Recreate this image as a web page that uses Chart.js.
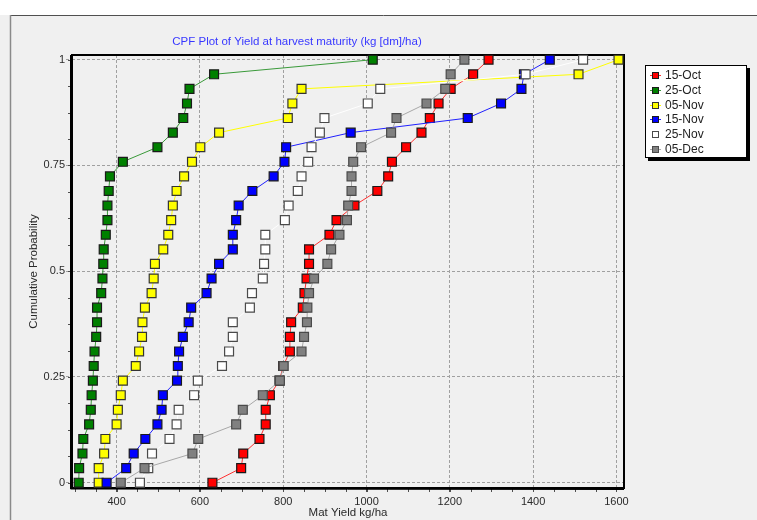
<!DOCTYPE html>
<html>
<head>
<meta charset="utf-8">
<script src="https://cdn.jsdelivr.net/npm/chart.js@4.4.1/dist/chart.umd.min.js"></script>
<style>
  html, body { margin: 0; padding: 0; background: #fff; }
  #wrap { width: 757px; height: 520px; position: relative; }
</style>
</head>
<body>
<div id="wrap"><canvas id="cpf"></canvas></div>
<script>
/* ── DATA ──────────────────────────────────── */
const PROB = [0, 0.0345, 0.069, 0.1034, 0.1379, 0.1724, 0.2069, 0.2414, 0.2759, 0.3103,
              0.3448, 0.3793, 0.4138, 0.4483, 0.4828, 0.5172, 0.5517, 0.5862, 0.6207, 0.6552,
              0.6897, 0.7241, 0.7586, 0.7931, 0.8276, 0.8621, 0.8966, 0.931, 0.9655, 1];

const OCT15 = [630, 699, 704, 743, 758, 758, 768, 791, 800, 816, 816, 819, 847, 851, 856,
               862, 862, 911, 928, 971, 1026, 1052, 1061, 1095, 1132, 1152, 1173, 1202, 1256, 1293];
const OCT25 = [309, 310, 318, 320, 334, 338, 340, 343, 345, 347, 351, 353, 353, 363, 366,
               368, 369, 374, 378, 378, 381, 384, 415, 498, 535, 560, 569, 575, 634, 1015];
const NOV05 = [357, 357, 370, 373, 400, 403, 410, 415, 446, 454, 461, 462, 468, 484, 489,
               492, 512, 524, 531, 535, 544, 562, 581, 601, 646, 811, 822, 844, 1509, 1605];
const NOV15 = [376, 423, 441, 469, 498, 508, 511, 545, 547, 550, 559, 573, 579, 616, 628,
               646, 679, 679, 687, 693, 726, 777, 803, 807, 962, 1243, 1323, 1372, 1378, 1440];
const NOV25 = [456, 476, 485, 527, 544, 549, 586, 595, 653, 670, 679, 679, 720, 725, 751,
               754, 757, 757, 804, 813, 835, 844, 860, 868, 888, 899, 1003, 1033, 1382, 1520];
const DEC05 = [410, 467, 582, 596, 687, 703, 751, 792, 801, 844, 850, 857, 858, 862, 874,
               906, 915, 935, 953, 956, 964, 964, 968, 987, 1059, 1072, 1144, 1189, 1202, 1235];

const SERIES_LABELS = ['15-Oct', '25-Oct', '05-Nov', '15-Nov', '25-Nov', '05-Dec'];
const SERIES_VALUES = [OCT15, OCT25, NOV05, NOV15, NOV25, DEC05];
const X_TICKS = [400, 600, 800, 1000, 1200, 1400, 1600];
const Y_TICKS = [0, 0.25, 0.5, 0.75, 1];

const TITLE   = 'CPF Plot of Yield at harvest maturity (kg [dm]/ha)';
const X_TITLE = 'Mat Yield kg/ha';
const Y_TITLE = 'Cumulative Probability';

/* ── STYLE ─────────────────────────────────── */
const FILL  = ['#ff0000', '#008000', '#ffff00', '#0000ff', '#ffffff', '#808080'];
const LINE  = ['#ff3030', '#3a9a3a', '#ffff00', '#2020ff', '#ffffff', '#a8a8a8'];
const EDGE  = ['#1a1a1a', '#1a1a1a', '#333333', '#1a1a1a', '#4a4a4a', '#4a4a4a'];
const FONT  = '"Liberation Sans", Arial, sans-serif';
const GRID  = '#a0a0a0';

const datasets = SERIES_LABELS.map((label, i) => ({
  label,
  data: SERIES_VALUES[i].map((x, k) => ({ x, y: PROB[k] })),
  showLine: true,
  borderColor: LINE[i],
  borderWidth: 1,
  pointStyle: 'rect',
  pointRadius: 6.3,
  pointHoverRadius: 6.3,
  pointBackgroundColor: FILL[i],
  pointBorderColor: EDGE[i],
  pointBorderWidth: 1.2,
  tension: 0,
  clip: false,
  order: SERIES_LABELS.length - 1 - i   // later series drawn on top
}));

/* ── PLUGINS ───────────────────────────────── */
const panel = {
  id: 'panel',
  beforeDraw(chart) {
    const { ctx, width, height } = chart;
    ctx.save();
    ctx.fillStyle = '#f0f0f0';
    ctx.fillRect(0, 0, width, height);
    ctx.fillStyle = '#ffffff';
    ctx.fillRect(0, 0, width, 15);
    ctx.strokeStyle = '#505050';
    ctx.lineWidth = 1;
    ctx.beginPath(); ctx.moveTo(10, 15.5); ctx.lineTo(width, 15.5); ctx.stroke();
    ctx.strokeStyle = '#8a8a8a';
    ctx.lineWidth = 1.5;
    ctx.beginPath(); ctx.moveTo(10.5, 15); ctx.lineTo(10.5, height); ctx.stroke();
    ctx.restore();
  }
};

const frame = {
  id: 'frame',
  beforeDatasetsDraw(chart) {
    const { ctx, chartArea: a, scales } = chart;
    ctx.save();
    // minor ticks
    ctx.strokeStyle = '#505050';
    ctx.lineWidth = 1;
    ctx.beginPath();
    for (let v = 300; v <= 1600; v += 50) {
      const px = Math.round(scales.x.getPixelForValue(v)) + 0.5;
      ctx.moveTo(px, a.bottom); ctx.lineTo(px, a.bottom + 4);
    }
    for (let v = 0; v <= 1; v += 0.0625) {
      const py = Math.round(scales.y.getPixelForValue(v)) + 0.5;
      ctx.moveTo(a.left - 4, py); ctx.lineTo(a.left, py);
    }
    ctx.stroke();
    // plot frame
    ctx.strokeStyle = '#000';
    ctx.lineWidth = 2;
    ctx.strokeRect(a.left, a.top, a.right - a.left, a.bottom - a.top);
    ctx.lineWidth = 1;
    ctx.beginPath();
    ctx.moveTo(a.left - 1.5, a.top); ctx.lineTo(a.left - 1.5, a.bottom + 1);
    ctx.lineTo(a.right, a.bottom + 1.5);
    ctx.stroke();
    ctx.restore();
  }
};

const titleAndLegend = {
  id: 'titleAndLegend',
  afterDraw(chart) {
    const { ctx } = chart;
    ctx.save();
    ctx.font = '11.5px ' + FONT;
    ctx.fillStyle = '#3838ff';
    ctx.textAlign = 'center';
    ctx.textBaseline = 'middle';
    ctx.fillText(TITLE, 297, 42);

    // legend box with drop shadow
    const bx = 645, by = 65, bw = 102, bh = 93;
    ctx.fillStyle = '#000';
    ctx.fillRect(bx + 3, by + 3, bw, bh);
    ctx.fillStyle = '#fff';
    ctx.fillRect(bx, by, bw, bh);
    ctx.strokeStyle = '#000';
    ctx.lineWidth = 1;
    ctx.strokeRect(bx + 0.5, by + 0.5, bw - 1, bh - 1);

    ctx.font = '12px ' + FONT;
    ctx.textAlign = 'left';
    chart.data.datasets.forEach((ds, i) => {
      const cy = Math.round(by + 10 + i * 14.8) + 0.5;
      ctx.strokeStyle = ds.borderColor;
      ctx.beginPath(); ctx.moveTo(650, cy); ctx.lineTo(661, cy); ctx.stroke();
      ctx.fillStyle = ds.pointBackgroundColor;
      ctx.fillRect(652.5, cy - 3, 6, 6);
      ctx.strokeStyle = ds.pointBorderColor;
      ctx.strokeRect(652.5, cy - 3, 6, 6);
      ctx.fillStyle = '#222';
      ctx.fillText(ds.label, 665, cy);
    });
    ctx.restore();
  }
};

/* ── CHART ─────────────────────────────────── */
new Chart(document.getElementById('cpf'), {
  type: 'scatter',
  data: { datasets },
  options: {
    responsive: true,
    maintainAspectRatio: false,
    animation: false,
    devicePixelRatio: 1,
    layout: { padding: { left: 6, top: 55, right: 133, bottom: 0 } },
    plugins: { legend: { display: false }, tooltip: { enabled: false } },
    scales: {
      x: {
        type: 'linear',
        min: 292.9,
        max: 1618.2,
        afterFit: s => { s.height = 32; },
        afterBuildTicks: s => { s.ticks = X_TICKS.map(v => ({ value: v })); },
        ticks: {
          autoSkip: false, maxRotation: 0, padding: 3,
          color: '#2a2a2a', font: { family: FONT, size: 11 },
          callback: v => String(v)
        },
        grid: {
          color: GRID, lineWidth: 1,
          tickLength: 4, tickColor: '#505050', tickBorderDash: []
        },
        border: { display: false, dash: [3, 2] },
        title: {
          display: true, text: X_TITLE, color: '#2a2a2a',
          font: { family: FONT, size: 11.5 }, padding: { top: 0, bottom: 0 }
        }
      },
      y: {
        type: 'linear',
        min: -0.0125,
        max: 1.0111,
        afterFit: s => { s.width = 66; },
        afterBuildTicks: s => { s.ticks = Y_TICKS.map(v => ({ value: v })); },
        ticks: {
          padding: 1, color: '#2a2a2a', font: { family: FONT, size: 11 },
          callback: v => String(v)
        },
        grid: {
          color: GRID, lineWidth: 1,
          tickLength: 6, tickColor: GRID, tickBorderDash: [3, 2]
        },
        border: { display: false, dash: [3, 2] },
        title: {
          display: true, text: Y_TITLE, color: '#2a2a2a',
          font: { family: FONT, size: 11.5 }, padding: { top: 20.6, bottom: 0 }
        }
      }
    }
  },
  plugins: [panel, frame, titleAndLegend]
});
</script>
</body>
</html>
